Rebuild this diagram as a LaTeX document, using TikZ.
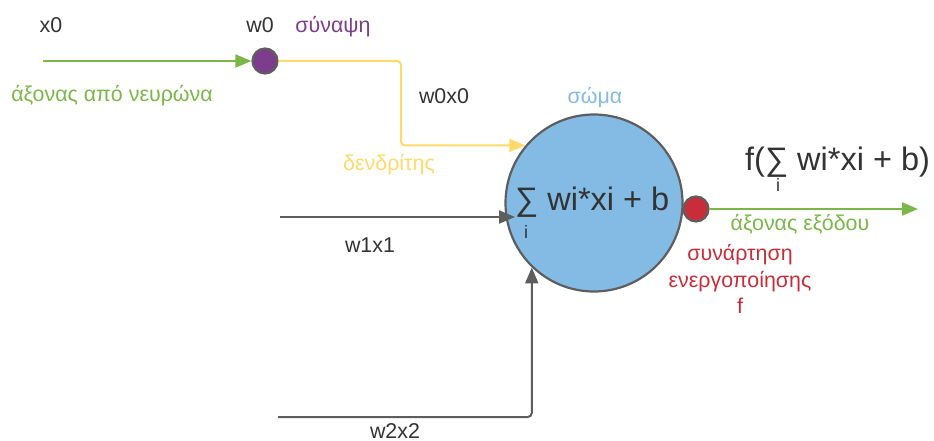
\documentclass[tikz,border=0pt]{standalone}
\usepackage{fontspec}
\setmainfont{Liberation Sans}
\usetikzlibrary{arrows.meta}
\definecolor{lgreen}{HTML}{7AB648}
\definecolor{lpurple}{HTML}{7E3C8C}
\definecolor{lyellow}{HTML}{FFDA6A}
\definecolor{lblue}{HTML}{83BBE5}
\definecolor{lred}{HTML}{C92D39}
\definecolor{ltext}{HTML}{333333}
\definecolor{lgray}{HTML}{5E5E5E}
\tikzset{
  tip/.style={-{Triangle[length=16pt,width=13pt]}},
  conn/.style={line width=2pt, tip},
  lbl/.style={font=\fontsize{21.4}{25}\selectfont, text=ltext, inner sep=0pt, anchor=base},
  big/.style={font=\fontsize{32.5}{38}\selectfont, text=ltext, inner sep=0pt, anchor=base west},
  sub/.style={font=\fontsize{18}{22}\selectfont, text=ltext, inner sep=0pt, anchor=base},
  dot/.style={circle, draw=lgray, line width=2.2pt, minimum size=25pt, inner sep=0pt},
}
\begin{document}
\begin{tikzpicture}[x=1pt,y=-1pt]
\useasboundingbox (0,0) rectangle (934,441);
% nodes
\node[circle, draw=lgray, line width=2.2pt, fill=lblue, minimum size=177pt, inner sep=0pt] (body) at (594,203) {};
\node[dot, fill=lpurple] (syn) at (265,61) {};
\node[dot, fill=lred] (act) at (696,209) {};
\coordinate (in0) at (43,61);
\coordinate (in1) at (280,217);
\coordinate (in1end) at (515,217);
\coordinate (in2) at (278,417);
\coordinate (bend0) at (401,61);
\coordinate (out) at (918,209);
% connectors
\draw[conn, lgreen] (in0) -- (syn.west);
\draw[conn, lyellow, rounded corners=4pt] (syn.east) -- (bend0) |- (body.140.5);
\draw[conn, lgray] (in1) -- (in1end);
\draw[conn, lgray, rounded corners=4pt] (in2) -| (body.226);
\draw[conn, lgreen] (act.east) -- (out);
% labels
\node[lbl] (tx0) at (51,33) {x0};
\node[lbl] (tw0) at (260,33) {w0};
\node[lbl, text=lpurple] (tsyn) at (333,33) {σύναψη};
\node[lbl, text=lgreen] (taxon) at (112,102) {άξονας από νευρώνα};
\node[lbl] (tw0x0) at (444,104) {w0x0};
\node[lbl, text=lblue] (tsoma) at (595,104) {σώμα};
\node[lbl, text=lyellow] (tdend) at (389,170) {δενδρίτης};
\node[lbl] (tw1x1) at (370,252) {w1x1};
\node[lbl] (tw2x2) at (395,438) {w2x2};
\node[big] (sum) at (515,210) {∑ wi*xi + b};
\node[sub] (sumi) at (526,238) {i};
\node[big] (fsum) at (745,170) {f(∑ wi*xi + b)};
\node[sub] (fsumi) at (778,191) {i};
\node[lbl, text=lgreen] (taxout) at (800,230) {άξονας εξόδου};
\node[lbl, text=lred] (tact1) at (740,260) {συνάρτηση};
\node[lbl, text=lred] (tact2) at (740,287) {ενεργοποίησης};
\node[lbl, text=lred] (tact3) at (740,313) {f};
\end{tikzpicture}
\end{document}
